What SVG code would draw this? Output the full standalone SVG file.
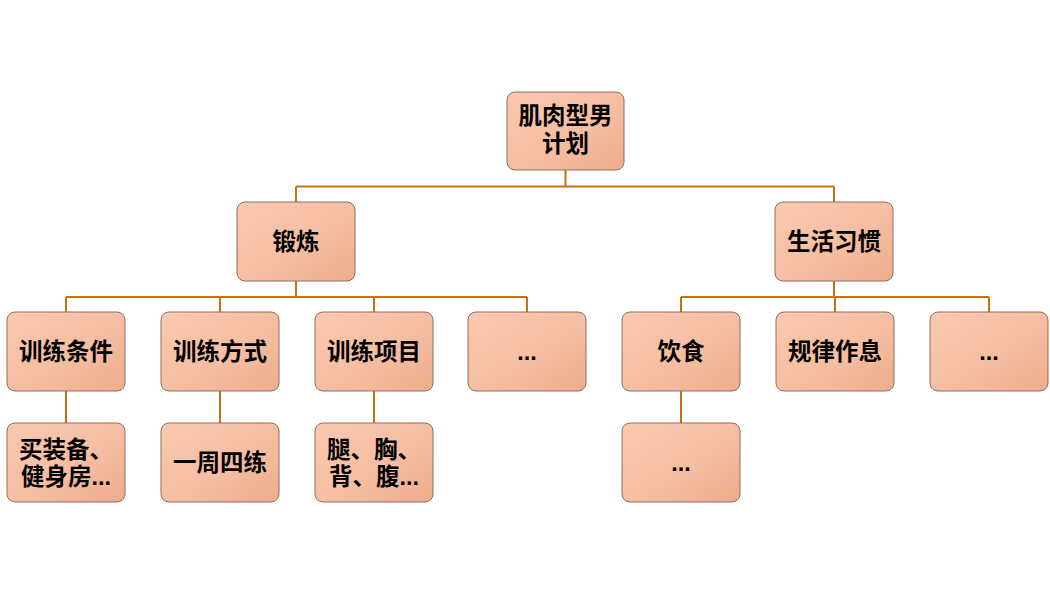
<svg xmlns="http://www.w3.org/2000/svg" width="1050" height="594" viewBox="0 0 1050 594">
<defs>
<linearGradient id="g" x1="0" y1="0" x2="1" y2="1">
<stop offset="0" stop-color="#F9C9AF"/>
<stop offset="0.55" stop-color="#F5BEA2"/>
<stop offset="1" stop-color="#EEAC8B"/>
</linearGradient>
<style>
.box{fill:url(#g);stroke:#8E6E60;stroke-width:1}
.t{font-family:"Liberation Sans","Noto Sans CJK SC",sans-serif;font-size:23.5px;font-weight:bold;fill:#000;text-anchor:middle;dominant-baseline:central}
.c{fill:none;stroke:#C8700F;stroke-width:2}
</style>
</defs>
<rect width="1050" height="594" fill="#fff"/>
<g id="connectors">
<path class="c" d="M565.5 170V186.5M296 186.5H834M296 186.5V202M834 186.5V202"/>
<path class="c" d="M296 281V297M66 297H527M66 297V312M220 297V312M374 297V312M527 297V312"/>
<path class="c" d="M834 281V297M681 297H989M681 297V312M835 297V312M989 297V312"/>
<path class="c" d="M66 391V423M220 391V423M374 391V423M681 391V423"/>
</g>
<g id="root"><rect class="box" x="507" y="92" width="117" height="78" rx="8"/><text class="t" x="565.5" y="116"><tspan x="565.5" y="116">肌肉型男</tspan><tspan x="565.5" y="143.5">计划</tspan></text></g>
<g id="duanlian"><rect class="box" x="237" y="202" width="118" height="79" rx="8"/><text class="t" x="296" y="241.5">锻炼</text></g>
<g id="shenghuo"><rect class="box" x="775" y="202" width="118" height="79" rx="8"/><text class="t" x="834" y="241.5">生活习惯</text></g>
<g id="tiaojian"><rect class="box" x="7" y="312" width="118" height="79" rx="8"/><text class="t" x="66" y="351.5">训练条件</text></g>
<g id="fangshi"><rect class="box" x="161" y="312" width="118" height="79" rx="8"/><text class="t" x="220" y="351.5">训练方式</text></g>
<g id="xiangmu"><rect class="box" x="315" y="312" width="118" height="79" rx="8"/><text class="t" x="374" y="351.5">训练项目</text></g>
<g id="more1"><rect class="box" x="468" y="312" width="118" height="79" rx="8"/><text class="t" x="527" y="351.5">...</text></g>
<g id="yinshi"><rect class="box" x="622" y="312" width="118" height="79" rx="8"/><text class="t" x="681" y="351.5">饮食</text></g>
<g id="zuoxi"><rect class="box" x="776" y="312" width="118" height="79" rx="8"/><text class="t" x="835" y="351.5">规律作息</text></g>
<g id="more2"><rect class="box" x="930" y="312" width="118" height="79" rx="8"/><text class="t" x="989" y="351.5">...</text></g>
<g id="zhuangbei"><rect class="box" x="7" y="423" width="118" height="79" rx="8"/><text class="t" x="66" y="449.5"><tspan x="66" y="449.5">买装备、</tspan><tspan x="66" y="477">健身房...</tspan></text></g>
<g id="sixlian"><rect class="box" x="161" y="423" width="118" height="79" rx="8"/><text class="t" x="220" y="462.5">一周四练</text></g>
<g id="tui"><rect class="box" x="315" y="423" width="118" height="79" rx="8"/><text class="t" x="374" y="449.5"><tspan x="374" y="449.5">腿、胸、</tspan><tspan x="374" y="477">背、腹...</tspan></text></g>
<g id="more3"><rect class="box" x="622" y="423" width="118" height="79" rx="8"/><text class="t" x="681" y="462.5">...</text></g>
</svg>
